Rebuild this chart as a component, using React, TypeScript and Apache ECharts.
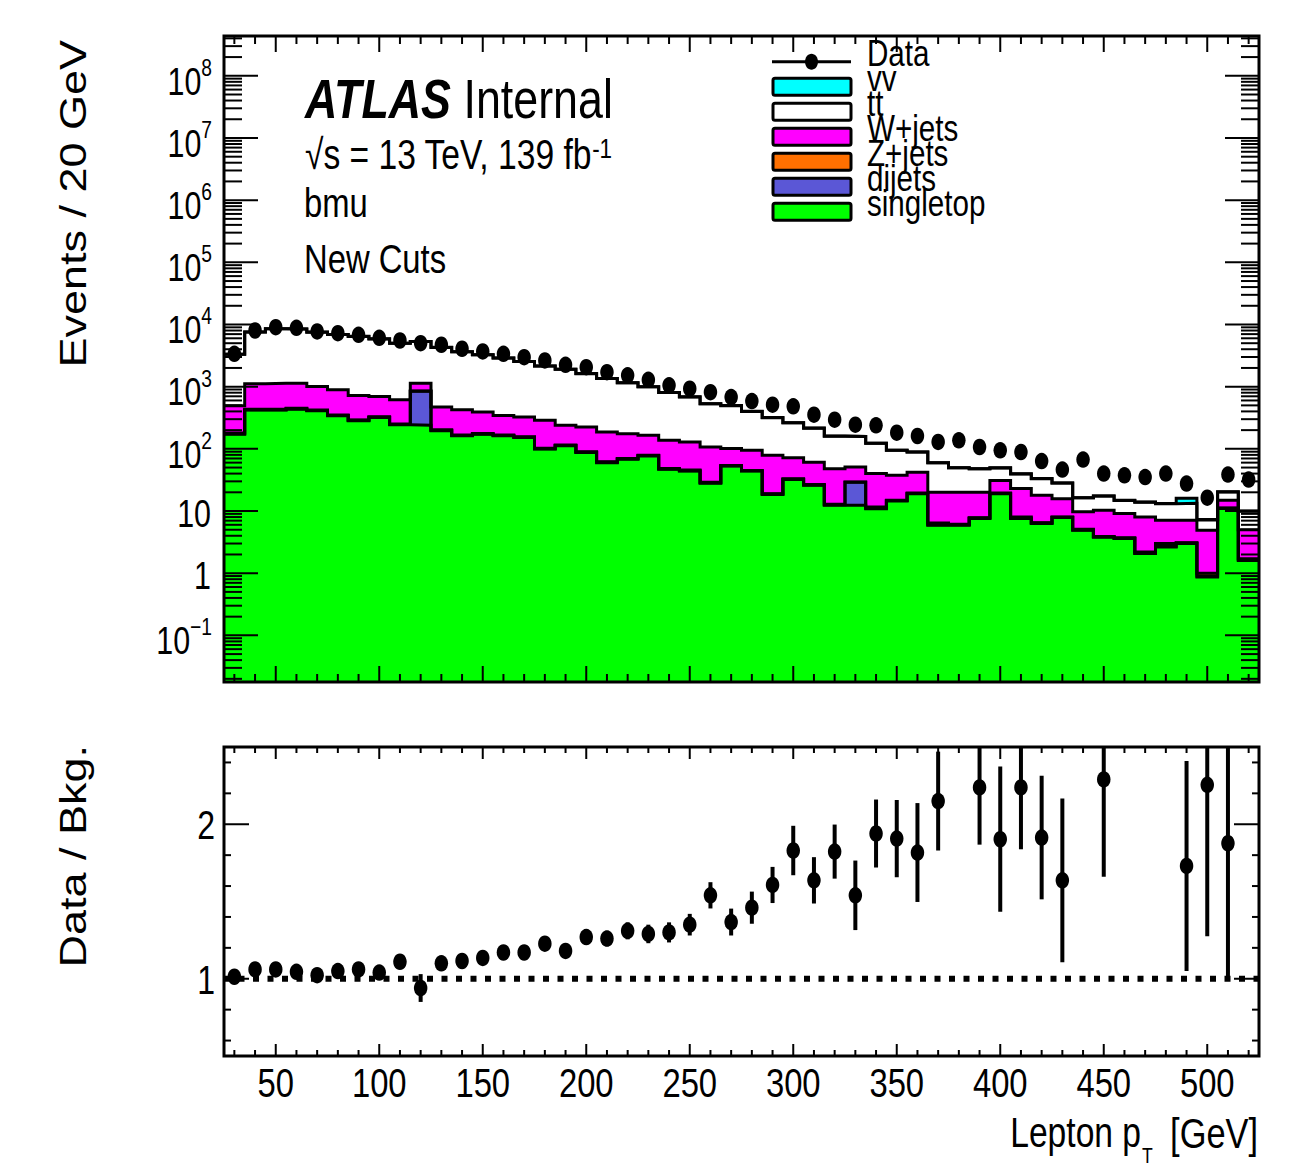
import React, { useEffect, useRef } from "react";
import * as echarts from "echarts";

// ---------------- data ----------------
const binCenters = [
  30, 40, 50, 60, 70, 80, 90, 100, 110, 120, 130, 140, 150, 160, 170, 180, 190, 200, 210, 220,
  230, 240, 250, 260, 270, 280, 290, 300, 310, 320, 330, 340, 350, 360, 370, 380, 390, 400, 410, 420,
  430, 440, 450, 460, 470, 480, 490, 500, 510, 520,
];
const BIN_HALF_WIDTH = 5;

const dataEvents = [
  3380, 8010, 9060, 8850, 7720, 7250, 6830, 6110, 5530, 5010, 4720, 4070, 3690, 3380, 2980, 2640, 2250, 2060, 1710, 1520,
  1290, 1050, 927, 817, 679, 586, 513, 482, 354, 294, 245, 239, 182, 161, 129, 137, 107, 94.6, 88.9, 63.7,
  46.4, 67.1, 40.0, 37.5, 35.2, 40.0, 27.6, 16.4, 38.5, 32.0,
];
const singletop = [
  172, 420, 420, 435, 410, 340, 283, 318, 244, 239, 195, 162, 172, 162, 152, 99, 112, 87, 60, 68,
  77, 47, 44, 28, 53, 44, 18.5, 32, 26, 12.4, 12.4, 10.9, 14.5, 19, 5.9, 5.9, 7.6, 19, 7.6, 6.3,
  7.85, 4.9, 3.8, 3.6, 2.07, 2.65, 3.0, 0.87, 11, 1.6,
];
const dijets = [
  3, 5, 5, 5, 5, 4, 4, 4, 3, 605, 3, 2, 2, 2, 2, 1, 1, 1, 1, 1,
  1, 0.5, 0.5, 0.5, 0.5, 0.5, 0.3, 0.5, 0.3, 0.2, 16.6, 0.2, 0.2, 0.2, 0.1, 0.1, 0.1, 0.2, 0.1, 0.1,
  0.1, 0.05, 0.05, 0.05, 0.03, 0.05, 0.05, 0.03, 0.1, 0.05,
];
const zjets = [
  4, 8, 8, 8, 7, 6, 5, 5, 4, 6, 4, 3, 3, 3, 3, 2, 2, 2, 1, 1,
  1, 1, 1, 0.5, 0.5, 0.5, 0.2, 0.5, 0.3, 0.2, 0.2, 0.5, 0.2, 0.2, 0.4, 0.1, 0.1, 0.2, 0.3, 0.1,
  0.1, 0.15, 0.05, 0.05, 0.1, 0.3, 0.05, 0.1, 0.1, 0.05,
];
const wjets = [
  315, 682, 707, 692, 588, 542, 431, 370, 366, 290, 268, 259, 213, 178, 167, 185, 124, 134, 124, 105,
  86, 88.5, 83.5, 78, 47, 49.6, 59.7, 39, 34.4, 35.2, 21.8, 28.4, 22.6, 22.6, 13.6, 13.9, 12.2, 11.6, 15, 11.4,
  7.75, 4.6, 6.4, 5.4, 5.8, 4.1, 4.0, 3.9, 3.7, 3.3,
];
const ttbar = [
  2838, 6432, 7395, 7317, 6525, 6003, 5711, 5170, 4358, 4183, 3815, 3219, 2856, 2540, 2219, 1862, 1665, 1395, 1169, 983,
  833, 669, 556, 422, 394, 305, 239, 190, 154, 112, 107, 82.5, 57, 46.6, 39.7, 29.5, 27.7, 18.4, 16.5, 15.2,
  12.3, 6.6, 7.1, 5.7, 5.9, 6.0, 6.2, 2.3, 5.4, 4.9,
];
const diboson = [
  5, 10, 12, 12, 11, 10, 9, 8, 7, 7, 6, 5, 5, 4, 4, 3, 3, 3, 2, 2,
  2, 2, 1.5, 1.5, 1.5, 1, 1, 1, 0.8, 0.6, 0.6, 0.5, 0.5, 0.4, 0.3, 0.3, 0.3, 0.3, 0.2, 0.2,
  0.2, 0.1, 0.1, 0.1, 0.1, 0.1, 2.7, 0.1, 0.2, 0.1,
];

// ratio panel (null = point outside the displayed range)
const ratioValues: (number | null)[] = [
  1.013, 1.06, 1.06, 1.045, 1.023, 1.05, 1.06, 1.04, 1.11, 0.94, 1.10, 1.115, 1.135, 1.17, 1.17, 1.227, 1.18, 1.27, 1.26, 1.31,
  1.29, 1.30, 1.35, 1.54, 1.367, 1.46, 1.607, 1.83, 1.637, 1.823, 1.54, 1.94, 1.907, 1.817, 2.15, null, 2.238, 1.903, 2.238, 1.914,
  1.637, null, 2.29, null, null, null, 1.73, 2.255, 1.877, null,
];
const ratioErrors = [
  0.01, 0.01, 0.01, 0.01, 0.012, 0.012, 0.012, 0.013, 0.015, 0.09, 0.016, 0.018, 0.02, 0.02, 0.025, 0.03, 0.03, 0.05, 0.05, 0.055,
  0.06, 0.065, 0.07, 0.085, 0.087, 0.104, 0.117, 0.16, 0.15, 0.175, 0.225, 0.22, 0.25, 0.32, 0.32, 0, 0.37, 0.47, 0.40, 0.40,
  0.53, 0, 0.63, 0, 0, 0, 0.68, 0.98, 0.88, 0,
];

const xTickLabels = [50, 100, 150, 200, 250, 300, 350, 400, 450, 500];
const topDecades = [-1, 0, 1, 2, 3, 4, 5, 6, 7, 8];
const ratioTickLabels = [1, 2];
const legendNames = ["Data", "vv", "tt", "W+jets", "Z+jets", "dijets", "singletop"];

// ---------------- styling ----------------
const X_MIN = 25;
const X_MAX = 525;
const LOG_MIN = -1.75;
const LOG_MAX = 8.64;
const R_MIN = 0.5;
const R_MAX = 2.5;
const SQUEEZE = 0.8;

const FONT = "'Liberation Sans', Arial, Helvetica, sans-serif";

const stackBottomUp = [
  { name: "singletop", color: "#00ff00", values: singletop },
  { name: "dijets", color: "#5b57d6", values: dijets },
  { name: "Z+jets", color: "#ff7000", values: zjets },
  { name: "W+jets", color: "#ff00ff", values: wjets },
  { name: "tt", color: "#ffffff", values: ttbar },
  { name: "vv", color: "#00ffff", values: diboson },
];
const legendColors: Record<string, string> = {
  vv: "#00ffff",
  tt: "#ffffff",
  "W+jets": "#ff00ff",
  "Z+jets": "#ff7000",
  dijets: "#5b57d6",
  singletop: "#00ff00",
};

function line(x1: number, y1: number, x2: number, y2: number, w = 2) {
  return { type: "line", shape: { x1, y1, x2, y2 }, style: { stroke: "#000", lineWidth: w } };
}

function txt(text: string, x: number, y: number, size: number, align: string) {
  return {
    type: "text",
    x,
    y,
    scaleX: SQUEEZE,
    style: { text, fontSize: size, fontFamily: FONT, fill: "#000", align, verticalAlign: "middle" },
  };
}

function advance(s: string) {
  let w = 0;
  for (const ch of s) w += ch === "\u2212" ? 0.584 : 0.556;
  return w;
}

function buildOption() {
  let running = binCenters.map(() => 0);
  const cumul = stackBottomUp.map((s) => {
    running = running.map((r, i) => r + s.values[i]);
    return { ...s, cum: running.slice() };
  });
  const last = binCenters.length - 1;

  const stepSeries = cumul
    .slice()
    .reverse()
    .map((s) => ({
      type: "line",
      name: s.name,
      xAxisIndex: 0,
      yAxisIndex: 0,
      step: "end",
      symbol: "none",
      showSymbol: false,
      silent: true,
      emphasis: { disabled: true },
      data: [
        ...binCenters.map((c, i) => [c - BIN_HALF_WIDTH, Math.log10(s.cum[i])]),
        [binCenters[last] + BIN_HALF_WIDTH, Math.log10(s.cum[last])],
      ],
      lineStyle: { color: "#000", width: 3, join: "miter" },
      areaStyle: { color: s.color, opacity: 1, origin: "start" },
      z: 2,
    }));

  const topFrame = {
    type: "custom",
    xAxisIndex: 0,
    yAxisIndex: 0,
    silent: true,
    z: 10,
    data: [[X_MIN, LOG_MIN]],
    encode: { x: 0, y: 1 },
    renderItem: (_p: any, api: any) => {
      const [x0, y0] = api.coord([X_MIN, LOG_MAX]);
      const [x1, y1] = api.coord([X_MAX, LOG_MIN]);
      const children: any[] = [];
      for (let n = -2; n <= 8; n++) {
        for (let k = 1; k <= 9; k++) {
          const v = n + Math.log10(k);
          if (v <= LOG_MIN || v >= LOG_MAX) continue;
          const y = api.coord([X_MIN, v])[1];
          const len = k === 1 ? 34 : 18;
          children.push(line(x0, y, x0 + len, y), line(x1 - len, y, x1, y));
        }
      }
      for (let x = 30; x <= 520; x += 10) {
        const px = api.coord([x, LOG_MIN])[0];
        const len = x % 50 === 0 ? 16 : 8;
        children.push(line(px, y1, px, y1 - len), line(px, y0, px, y0 + len));
      }
      // decade labels
      for (const n of topDecades) {
        const y = api.coord([X_MIN, n])[1];
        if (n === 0 || n === 1) {
          children.push(txt(n === 0 ? "1" : "10", x0 - 13, y + 3, 38, "right"));
        } else {
          const exp = n < 0 ? "\u2212" + -n : String(n);
          const expW = advance(exp) * 24 * SQUEEZE;
          children.push(txt(exp, x0 - 12, y - 8.3, 24, "right"));
          children.push(txt("10", x0 - 12 - expW, y + 5.5, 38, "right"));
        }
      }
      children.push({
        type: "rect",
        shape: { x: x0, y: y0, width: x1 - x0, height: y1 - y0 },
        style: { fill: "none", stroke: "#000", lineWidth: 3 },
      });
      return { type: "group", children };
    },
  };

  const ratioFrame = {
    type: "custom",
    xAxisIndex: 1,
    yAxisIndex: 1,
    silent: true,
    z: 10,
    data: [[X_MIN, R_MIN]],
    encode: { x: 0, y: 1 },
    renderItem: (_p: any, api: any) => {
      const [x0, y0] = api.coord([X_MIN, R_MAX]);
      const [x1, y1] = api.coord([X_MAX, R_MIN]);
      const children: any[] = [];
      for (let i = 3; i <= 12; i++) {
        const v = i * 0.2;
        if (v <= R_MIN || v >= R_MAX) continue;
        const y = api.coord([X_MIN, v])[1];
        const major = Math.abs(v - Math.round(v)) < 1e-6;
        const len = major ? 25 : 7;
        children.push(line(x0, y, x0 + len, y), line(x1 - len, y, x1, y));
      }
      for (let x = 30; x <= 520; x += 10) {
        const px = api.coord([x, R_MIN])[0];
        const len = x % 50 === 0 ? 12 : 6;
        children.push(line(px, y1, px, y1 - len), line(px, y0, px, y0 + len));
      }
      for (const v of xTickLabels) {
        const px = api.coord([v, R_MIN])[0];
        children.push(txt(String(v), px, y1 + 27, 41, "center"));
      }
      for (const v of ratioTickLabels) {
        const y = api.coord([X_MIN, v])[1];
        children.push(txt(String(v), x0 - 9, y + 1, 40, "right"));
      }
      children.push({
        type: "rect",
        shape: { x: x0, y: y0, width: x1 - x0, height: y1 - y0 },
        style: { fill: "none", stroke: "#000", lineWidth: 3 },
      });
      return { type: "group", children };
    },
  };

  const ratioPts = binCenters
    .map((c, i) => (ratioValues[i] == null ? null : [c, ratioValues[i] as number, ratioErrors[i]]))
    .filter((d) => d !== null) as number[][];

  const legendGraphics: any[] = [];
  legendNames.forEach((name, k) => {
    const rowY = 61.7 + 25 * k;
    if (k === 0) {
      legendGraphics.push({
        type: "line",
        shape: { x1: 772, y1: rowY, x2: 851, y2: rowY },
        style: { stroke: "#000", lineWidth: 3 },
      });
      legendGraphics.push({
        type: "ellipse",
        shape: { cx: 811.5, cy: rowY, rx: 6.5, ry: 8 },
        style: { fill: "#000" },
      });
    } else {
      legendGraphics.push({
        type: "rect",
        shape: { x: 773, y: rowY - 8.5, width: 78, height: 17, r: 2 },
        style: { fill: legendColors[name], stroke: "#000", lineWidth: 3 },
      });
    }
    legendGraphics.push({
      type: "text",
      x: 867,
      y: rowY - 8.5,
      scaleX: SQUEEZE,
      style: { text: name, fontSize: 37, fontFamily: FONT, fill: "#000", align: "left", verticalAlign: "middle" },
    });
  });

  const plain = (text: string, x: number, y: number, size: number, align = "left") => ({
    type: "text",
    x,
    y,
    scaleX: SQUEEZE,
    style: { text, fontSize: size, fontFamily: FONT, fill: "#000", align, verticalAlign: "middle" },
  });

  const textGraphics: any[] = [
    {
      type: "text",
      x: 305,
      y: 99,
      scaleX: SQUEEZE,
      style: {
        text: "{a|ATLAS}{b| Internal}",
        align: "left",
        verticalAlign: "middle",
        fill: "#000",
        rich: {
          a: { fontSize: 56, fontWeight: "bold", fontStyle: "italic", fontFamily: FONT, fill: "#000" },
          b: { fontSize: 56, fontFamily: FONT, fill: "#000" },
        },
      },
    },
    {
      type: "text",
      x: 305,
      y: 155,
      scaleX: SQUEEZE,
      style: {
        text: "{n|\u221As = 13 TeV, 139 fb}{s|-1}",
        align: "left",
        verticalAlign: "middle",
        fill: "#000",
        rich: {
          n: { fontSize: 42, lineHeight: 42, padding: [4, 0, 0, 0], verticalAlign: "bottom", fontFamily: FONT, fill: "#000" },
          s: { fontSize: 28, lineHeight: 28, verticalAlign: "top", fontFamily: FONT, fill: "#000" },
        },
      },
    },
    plain("bmu", 304, 203, 41),
    plain("New Cuts", 304, 259, 41),
    {
      type: "text",
      x: 74,
      y: 40,
      rotation: Math.PI / 2,
      scaleY: SQUEEZE,
      style: { text: "Events / 20 GeV", fontSize: 45, fontFamily: FONT, fill: "#000", align: "right", verticalAlign: "middle" },
    },
    {
      type: "text",
      x: 74,
      y: 745,
      rotation: Math.PI / 2,
      scaleY: SQUEEZE,
      style: { text: "Data / Bkg.", fontSize: 45, fontFamily: FONT, fill: "#000", align: "right", verticalAlign: "middle" },
    },
    plain("Lepton p", 1141, 1133, 42, "right"),
    plain("T", 1142, 1155, 22, "left"),
    plain("[GeV]", 1258, 1133, 43, "right"),
  ];

  const hidden = { show: false };

  return {
    animation: false,
    backgroundColor: "#ffffff",
    grid: [
      { left: 224, top: 36, width: 1035, height: 646, containLabel: false, outerBoundsMode: "none" },
      { left: 224, top: 747, width: 1035, height: 309, containLabel: false, outerBoundsMode: "none" },
    ],
    xAxis: [
      { type: "value", gridIndex: 0, min: X_MIN, max: X_MAX, interval: 25, axisLine: hidden, axisTick: hidden, splitLine: hidden, axisLabel: hidden },
      { type: "value", gridIndex: 1, min: X_MIN, max: X_MAX, interval: 25, axisLine: hidden, axisTick: hidden, splitLine: hidden, axisLabel: hidden },
    ],
    yAxis: [
      { type: "value", gridIndex: 0, min: LOG_MIN, max: LOG_MAX, interval: 0.25, axisLine: hidden, axisTick: hidden, splitLine: hidden, axisLabel: hidden },
      { type: "value", gridIndex: 1, min: R_MIN, max: R_MAX, interval: 0.5, axisLine: hidden, axisTick: hidden, splitLine: hidden, axisLabel: hidden },
    ],
    series: [
      ...stepSeries,
      {
        type: "scatter",
        name: "Data",
        xAxisIndex: 0,
        yAxisIndex: 0,
        silent: true,
        symbol: "circle",
        symbolSize: [13.5, 16.5],
        itemStyle: { color: "#000", opacity: 1 },
        data: binCenters.map((c, i) => [c, Math.log10(dataEvents[i])]),
        z: 5,
      },
      topFrame,
      {
        type: "line",
        xAxisIndex: 1,
        yAxisIndex: 1,
        silent: true,
        symbol: "none",
        data: [
          [X_MIN, 1],
          [X_MAX, 1],
        ],
        lineStyle: { color: "#000", width: 6, type: [6, 8.5] },
        z: 3,
      },
      {
        type: "custom",
        xAxisIndex: 1,
        yAxisIndex: 1,
        silent: true,
        z: 4,
        data: ratioPts,
        encode: { x: 0, y: 1 },
        renderItem: (_p: any, api: any) => {
          const x = api.value(0);
          const r = api.value(1);
          const e = api.value(2);
          const lo = api.coord([x, Math.max(r - e, R_MIN)]);
          const hi = api.coord([x, Math.min(r + e, R_MAX)]);
          return {
            type: "line",
            shape: { x1: lo[0], y1: lo[1], x2: hi[0], y2: hi[1] },
            style: { stroke: "#000", lineWidth: 4 },
          };
        },
      },
      {
        type: "scatter",
        xAxisIndex: 1,
        yAxisIndex: 1,
        silent: true,
        symbol: "circle",
        symbolSize: [13.5, 16.5],
        itemStyle: { color: "#000", opacity: 1 },
        data: ratioPts.map((d) => [d[0], d[1]]),
        z: 5,
      },
      ratioFrame,
    ],
    graphic: [...legendGraphics, ...textGraphics],
  };
}

export default function App() {
  const ref = useRef<HTMLDivElement>(null);
  useEffect(() => {
    if (!ref.current) return;
    const chart = echarts.init(ref.current, undefined, { renderer: "svg", width: 1304, height: 1169 });
    chart.setOption(buildOption() as any);
    return () => {
      chart.dispose();
    };
  }, []);
  return (
    <div
      ref={ref}
      style={{ position: "absolute", left: 0, top: 0, width: 1304, height: 1169, background: "#fff" }}
    />
  );
}
